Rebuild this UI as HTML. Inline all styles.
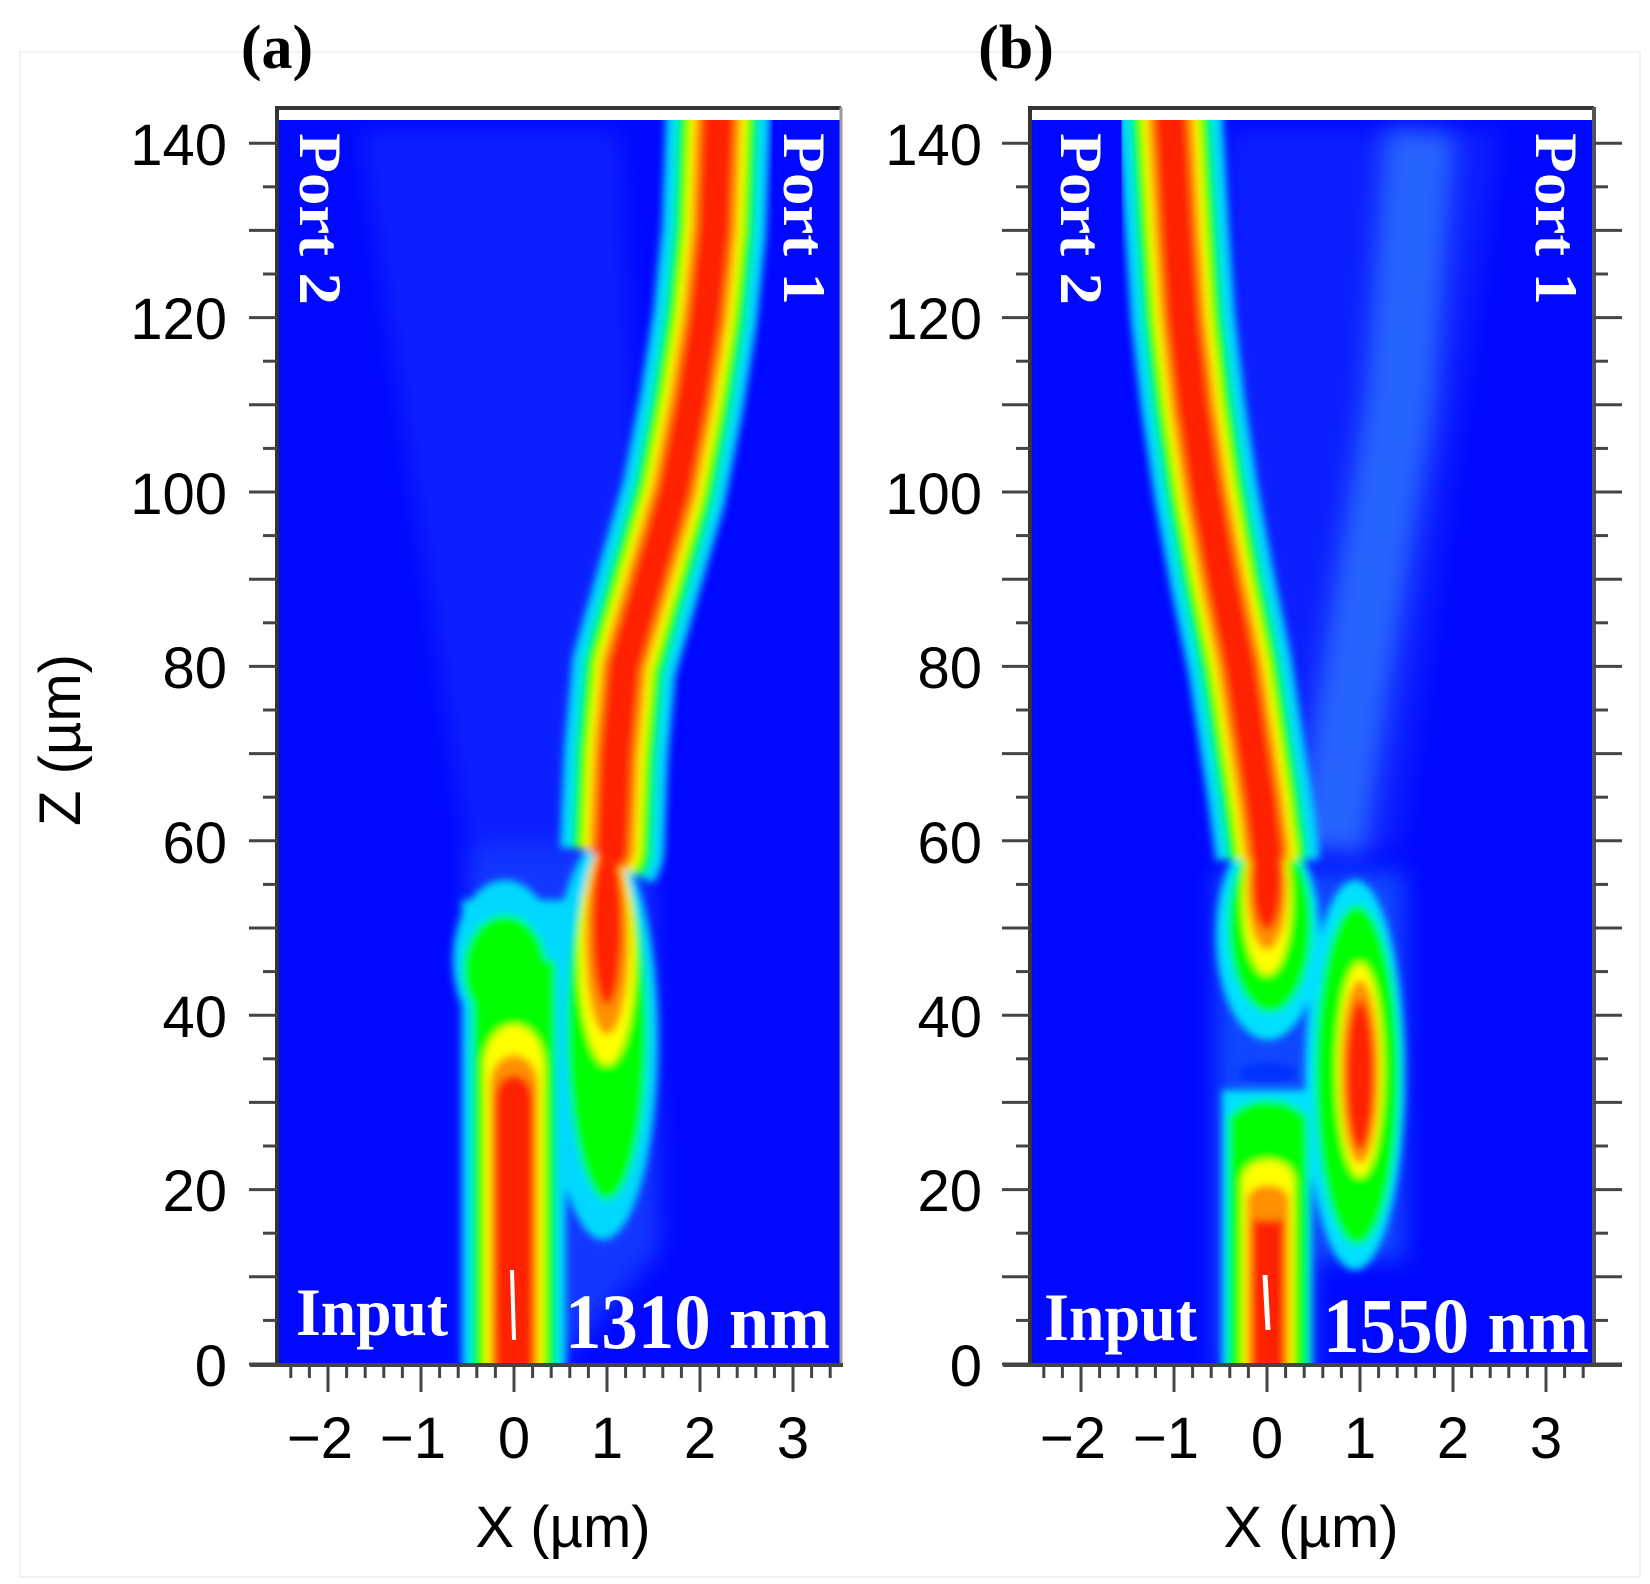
<!DOCTYPE html>
<html><head><meta charset="utf-8">
<style>
html,body{margin:0;padding:0;background:#fff;}
svg{display:block;}
.ax{font-family:"Liberation Sans",Arial,sans-serif;font-size:58px;fill:#000;}
.ser{font-family:"Liberation Serif","Times New Roman",serif;font-weight:bold;fill:#fff;}
</style></head>
<body>
<svg id="s" width="1650" height="1584" viewBox="0 0 1650 1584" xmlns="http://www.w3.org/2000/svg">
<defs>
<filter id="bl" x="-20%" y="-20%" width="140%" height="140%"><feGaussianBlur stdDeviation="4"/></filter>
<filter id="bl2" x="-50%" y="-50%" width="200%" height="200%"><feGaussianBlur stdDeviation="12"/></filter>
<clipPath id="ca"><rect x="277" y="120" width="564" height="1244"/></clipPath>
<clipPath id="cb"><rect x="1030" y="120" width="564" height="1244"/></clipPath>
</defs>
<rect x="20" y="52" width="1620" height="1525" fill="none" stroke="#f2f2f2" stroke-width="2"/>

<!-- Panel A -->
<rect x="277" y="107" width="564" height="1257" fill="#fff"/>
<g clip-path="url(#ca)">
<rect x="277" y="120" width="564" height="1244" fill="#0008ff"/>
<g filter="url(#bl2)" opacity="0.45">
<polygon points="467,850 650,850 620,130 360,130" fill="#1e3cff"/>
<polygon points="467,1364 560,1364 660,1250 650,850 467,850" fill="#2a70ff"/>
</g>
<g filter="url(#bl)" fill="none" stroke-linecap="butt" stroke-linejoin="round">
<ellipse cx="603" cy="1040" rx="55" ry="200" fill="#00d8ff" stroke="none"/>
<ellipse cx="607" cy="1030" rx="40" ry="170" fill="#00ff00" stroke="none"/>
<ellipse cx="607" cy="955" rx="28" ry="110" fill="#ffff00" stroke="none"/>
<ellipse cx="607" cy="940" rx="22" ry="95" fill="#ff9000" stroke="none"/>
<ellipse cx="607" cy="925" rx="15" ry="80" fill="#ff2000" stroke="none"/>
<rect x="462" y="900" width="104" height="470" fill="#00d8ff"/>
<ellipse cx="505" cy="960" rx="52" ry="80" fill="#00d8ff"/>
<rect x="472" y="960" width="84" height="410" fill="#00ff00"/>
<ellipse cx="505" cy="970" rx="42" ry="55" fill="#00ff00"/>
<rect x="484" y="1065" width="60" height="310" fill="#ffff00"/>
<ellipse cx="514" cy="1065" rx="30" ry="40" fill="#ffff00"/>
<rect x="490" y="1085" width="48" height="290" fill="#ff9000"/>
<ellipse cx="514" cy="1085" rx="24" ry="30" fill="#ff9000"/>
<rect x="495" y="1100" width="38" height="270" fill="#ff2000"/>
<ellipse cx="514" cy="1100" rx="19" ry="25" fill="#ff2000"/>
<polyline points="607,860 612,850 616,754 624,666 649,579 674,492 691,405 705,318 714,230 719,90" stroke="#00d8ff" stroke-width="104"/>
<polyline points="607,860 612,850 616,754 624,666 649,579 674,492 691,405 705,318 714,230 719,90" stroke="#00ff00" stroke-width="80"/>
<polyline points="607,860 612,850 616,754 624,666 649,579 674,492 691,405 705,318 714,230 719,90" stroke="#ffff00" stroke-width="58"/>
<polyline points="607,860 612,850 616,754 624,666 649,579 674,492 691,405 705,318 714,230 719,90" stroke="#ff9000" stroke-width="46"/>
<polyline points="607,860 612,850 616,754 624,666 649,579 674,492 691,405 705,318 714,230 719,90" stroke="#ff2000" stroke-width="32"/>
</g>
<line x1="512" y1="1270" x2="514" y2="1340" stroke="#fff" stroke-width="4"/>
</g>
<rect x="277" y="107" width="564" height="13" fill="#fff"/>
<line x1="277" y1="108" x2="841" y2="108" stroke="#333" stroke-width="4"/>
<line x1="841" y1="107" x2="841" y2="1364" stroke="#999" stroke-width="3"/>
<line x1="277" y1="106" x2="277" y2="1366" stroke="#333" stroke-width="4"/>
<line x1="250" y1="1365" x2="843" y2="1365" stroke="#444" stroke-width="4"/>
<g id="ta" stroke="#444" stroke-width="3"></g>
<text class="ser" font-size="60" textLength="172" lengthAdjust="spacingAndGlyphs" transform="translate(300,133) rotate(90)">Port 2</text>
<text class="ser" font-size="60" textLength="172" lengthAdjust="spacingAndGlyphs" transform="translate(784,133) rotate(90)">Port 1</text>
<text class="ser" font-size="68" x="296" y="1335" textLength="152" lengthAdjust="spacingAndGlyphs">Input</text>
<text class="ser" font-size="78" x="565" y="1348" textLength="265" lengthAdjust="spacingAndGlyphs">1310 nm</text>

<!-- Panel B -->
<rect x="1030" y="107" width="564" height="1257" fill="#fff"/>
<g clip-path="url(#cb)">
<rect x="1030" y="120" width="564" height="1244" fill="#0008ff"/>
<g filter="url(#bl2)" opacity="0.45">
<polygon points="1215,850 1400,850 1500,130 1230,130" fill="#1e3cff"/>
</g>
<g filter="url(#bl2)" opacity="0.55">
<polyline points="1330,850 1360,650 1400,400 1420,130" stroke="#3c9cff" stroke-width="70" fill="none"/>
<rect x="1215" y="870" width="190" height="390" fill="#1a7cff"/>
<rect x="1215" y="1250" width="100" height="120" fill="#1a7cff"/>
</g>
<g filter="url(#bl)" fill="none" stroke-linejoin="round">
<ellipse cx="1355" cy="1075" rx="50" ry="195" fill="#00e0ff"/>
<ellipse cx="1357" cy="1075" rx="42" ry="170" fill="#00ff00"/>
<ellipse cx="1360" cy="1070" rx="23" ry="107" fill="#ffff00"/>
<ellipse cx="1360" cy="1072" rx="19" ry="92" fill="#ff9000"/>
<ellipse cx="1360" cy="1075" rx="14" ry="75" fill="#ff2000"/>
<ellipse cx="1268" cy="935" rx="52" ry="105" fill="#00e0ff"/>
<ellipse cx="1270" cy="925" rx="42" ry="88" fill="#00ff00"/>
<ellipse cx="1267" cy="900" rx="24" ry="75" fill="#ffff00"/>
<ellipse cx="1267" cy="890" rx="20" ry="60" fill="#ff9000"/>
<ellipse cx="1267" cy="880" rx="15" ry="50" fill="#ff2000"/>
<rect x="1222" y="1090" width="90" height="280" fill="#00e0ff"/>
<rect x="1228" y="1115" width="80" height="260" fill="#00ff00"/>
<ellipse cx="1268" cy="1125" rx="40" ry="25" fill="#00ff00"/>
<ellipse cx="1268" cy="1073" rx="30" ry="10" fill="#0030ff"/>
<rect x="1242" y="1180" width="52" height="195" fill="#ffff00"/>
<ellipse cx="1268" cy="1180" rx="26" ry="20" fill="#ffff00"/>
<rect x="1247" y="1200" width="42" height="175" fill="#ff9000"/>
<ellipse cx="1268" cy="1200" rx="21" ry="15" fill="#ff9000"/>
<rect x="1252" y="1220" width="32" height="155" fill="#ff2000"/>
<polyline points="1267,860 1267,850 1260,797 1240,666 1222,579 1206,492 1193,405 1183,318 1177,230 1169,90" stroke="#00d8ff" stroke-width="104"/>
<polyline points="1267,860 1267,850 1260,797 1240,666 1222,579 1206,492 1193,405 1183,318 1177,230 1169,90" stroke="#00ff00" stroke-width="80"/>
<polyline points="1267,860 1267,850 1260,797 1240,666 1222,579 1206,492 1193,405 1183,318 1177,230 1169,90" stroke="#ffff00" stroke-width="58"/>
<polyline points="1267,860 1267,850 1260,797 1240,666 1222,579 1206,492 1193,405 1183,318 1177,230 1169,90" stroke="#ff9000" stroke-width="46"/>
<polyline points="1267,860 1267,850 1260,797 1240,666 1222,579 1206,492 1193,405 1183,318 1177,230 1169,90" stroke="#ff2000" stroke-width="32"/>
</g>
<line x1="1265" y1="1275" x2="1268" y2="1330" stroke="#fff" stroke-width="5"/>
</g>
<rect x="1030" y="107" width="564" height="13" fill="#fff"/>
<line x1="1030" y1="108" x2="1594" y2="108" stroke="#333" stroke-width="4"/>
<line x1="1594" y1="107" x2="1594" y2="1366" stroke="#555" stroke-width="4"/>
<line x1="1030" y1="106" x2="1030" y2="1366" stroke="#333" stroke-width="4"/>
<line x1="1003" y1="1365" x2="1622" y2="1365" stroke="#444" stroke-width="4"/>
<g id="tb" stroke="#444" stroke-width="3"></g>
<text class="ser" font-size="60" textLength="172" lengthAdjust="spacingAndGlyphs" transform="translate(1061,133) rotate(90)">Port 2</text>
<text class="ser" font-size="60" textLength="172" lengthAdjust="spacingAndGlyphs" transform="translate(1536,133) rotate(90)">Port 1</text>
<text class="ser" font-size="68" x="1044" y="1340" textLength="153" lengthAdjust="spacingAndGlyphs">Input</text>
<text class="ser" font-size="78" x="1323" y="1352" textLength="266" lengthAdjust="spacingAndGlyphs">1550 nm</text>

<g class="ax" text-anchor="end">
<text x="227" y="165">140</text><text x="227" y="339">120</text><text x="227" y="514">100</text>
<text x="227" y="688">80</text><text x="227" y="863">60</text><text x="227" y="1037">40</text>
<text x="227" y="1211">20</text><text x="227" y="1386">0</text>
</g>
<g class="ax" text-anchor="middle">
<text x="320" y="1458">−2</text><text x="413" y="1458">−1</text><text x="514" y="1458">0</text>
<text x="607" y="1458">1</text><text x="700" y="1458">2</text><text x="793" y="1458">3</text>
<text x="563" y="1547">X (µm)</text>
<text transform="translate(80,740) rotate(-90)">Z (µm)</text>
</g>
<g class="ax" text-anchor="end">
<text x="982" y="165">140</text><text x="982" y="339">120</text><text x="982" y="514">100</text>
<text x="982" y="688">80</text><text x="982" y="863">60</text><text x="982" y="1037">40</text>
<text x="982" y="1211">20</text><text x="982" y="1386">0</text>
</g>
<g class="ax" text-anchor="middle">
<text x="1073" y="1458">−2</text><text x="1166" y="1458">−1</text><text x="1267" y="1458">0</text>
<text x="1360" y="1458">1</text><text x="1453" y="1458">2</text><text x="1546" y="1458">3</text>
<text x="1311" y="1547">X (µm)</text>
</g>
<text x="277" y="68" text-anchor="middle" font-family="Liberation Serif,serif" font-weight="bold" font-size="62">(a)</text>
<text x="1016" y="68" text-anchor="middle" font-family="Liberation Serif,serif" font-weight="bold" font-size="62">(b)</text>
</svg>
<script>
(function(){
var NS="http://www.w3.org/2000/svg";
function L(g,x1,y1,x2,y2){var l=document.createElementNS(NS,"line");l.setAttribute("x1",x1);l.setAttribute("y1",y1);l.setAttribute("x2",x2);l.setAttribute("y2",y2);g.appendChild(l);}
function ticks(id,left,zero,right){
 var g=document.getElementById(id);
 for(var v=0;v<=145;v+=5){var y=1364-8.72*v;if(y<112)continue;var len=(v%10==0)?28:14;L(g,left-len,y,left,y);if(right)L(g,left+564,y,left+564+len,y);}
 for(var i=-13;i<=17;i++){var u=i*0.2;var x=zero+93*u;if(x<left+5||x>left+562)continue;var len=(i%5==0)?27:13;L(g,x,1365,x,1365+len);}
}
ticks("ta",277,514,false);ticks("tb",1030,1267,true);
})();
</script>
</body></html>
